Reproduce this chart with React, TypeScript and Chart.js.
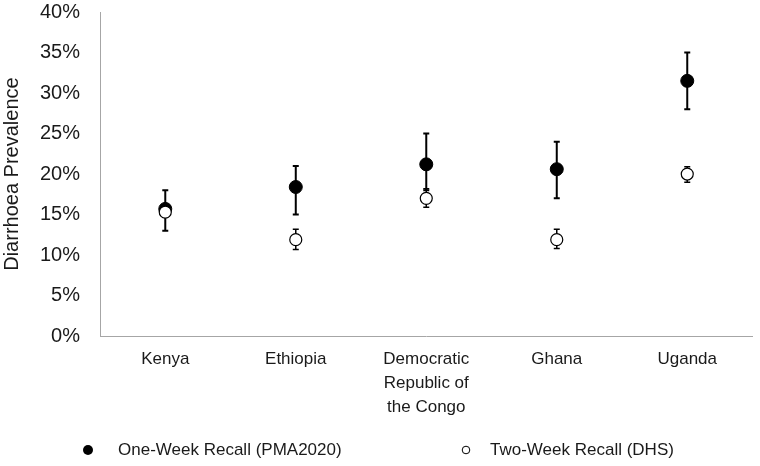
import React, { useEffect, useRef } from "react";
import { Chart, registerables } from "chart.js";

Chart.register(...registerables);

const categories: (string | string[])[] = [
  "Kenya",
  "Ethiopia",
  ["Democratic", "Republic of", "the Congo"],
  "Ghana",
  "Uganda",
];

const oneWeek = [15.7, 18.4, 21.2, 20.6, 31.5];
const oneWeekLow = [13.0, 15.0, 18.0, 17.0, 28.0];
const oneWeekHigh = [18.0, 21.0, 25.0, 24.0, 35.0];

const twoWeek = [15.3, 11.9, 17.0, 11.9, 20.0];
const twoWeekLow = [14.7, 10.7, 15.9, 10.8, 19.0];
const twoWeekHigh = [16.0, 13.2, 18.2, 13.2, 20.9];

const seriesNames = ["One-Week Recall (PMA2020)", "Two-Week Recall (DHS)"];

const FONT = "'Liberation Sans', Arial, sans-serif";
const TEXT = "#1a1a1a";
const AXIS = "#a6a6a6";

const errorBars = {
  id: "errorBars",
  beforeDatasetsDraw(chart: any) {
    const ctx = chart.ctx;
    const xs = chart.scales.x;
    const ys = chart.scales.y;
    const sets = [
      { lo: oneWeekLow, hi: oneWeekHigh, lw: 2 },
      { lo: twoWeekLow, hi: twoWeekHigh, lw: 1.5 },
    ];
    ctx.save();
    ctx.strokeStyle = "#000";
    sets.forEach((s) => {
      ctx.lineWidth = s.lw;
      s.lo.forEach((lo, i) => {
        const x = xs.getPixelForValue(i);
        const yl = ys.getPixelForValue(lo);
        const yh = ys.getPixelForValue(s.hi[i]);
        ctx.beginPath();
        ctx.moveTo(x, yl);
        ctx.lineTo(x, yh);
        ctx.moveTo(x - 3, yl);
        ctx.lineTo(x + 3, yl);
        ctx.moveTo(x - 3, yh);
        ctx.lineTo(x + 3, yh);
        ctx.stroke();
      });
    });
    ctx.restore();
  },
};

const bottomLegend = {
  id: "bottomLegend",
  afterDraw(chart: any) {
    const ctx = chart.ctx;
    const cx = chart.width / 2;
    const y = chart.height - 16;
    ctx.save();
    ctx.beginPath();
    ctx.arc(cx - 292, y, 5, 0, Math.PI * 2);
    ctx.fillStyle = "#000";
    ctx.fill();
    ctx.beginPath();
    ctx.arc(cx + 86, y, 3.8, 0, Math.PI * 2);
    ctx.fillStyle = "#fff";
    ctx.fill();
    ctx.lineWidth = 1;
    ctx.strokeStyle = "#000";
    ctx.stroke();
    ctx.fillStyle = TEXT;
    ctx.font = `17px ${FONT}`;
    ctx.textBaseline = "middle";
    ctx.textAlign = "left";
    ctx.fillText(seriesNames[0], cx - 262, y);
    ctx.fillText(seriesNames[1], cx + 110, y);
    ctx.restore();
  },
};

export default function App() {
  const ref = useRef<HTMLCanvasElement>(null);
  useEffect(() => {
    document.body.style.margin = "0";
    const chart = new Chart(ref.current!, {
      type: "line",
      data: {
        labels: categories as any,
        datasets: [
          {
            label: seriesNames[0],
            data: oneWeek,
            showLine: false,
            pointRadius: 6.5,
            pointHoverRadius: 6.5,
            pointBackgroundColor: "#000",
            pointBorderColor: "#000",
            pointBorderWidth: 1,
            order: 2,
          },
          {
            label: seriesNames[1],
            data: twoWeek,
            showLine: false,
            pointRadius: 6,
            pointHoverRadius: 6,
            pointBackgroundColor: "#fff",
            pointBorderColor: "#000",
            pointBorderWidth: 1.2,
            order: 1,
          },
        ],
      },
      options: {
        animation: false,
        responsive: true,
        maintainAspectRatio: false,
        layout: { padding: { top: 12, right: 2, left: 0, bottom: 36 } },
        plugins: {
          tooltip: { enabled: false },
          legend: { display: false },
        },
        scales: {
          x: {
            offset: true,
            grid: { display: false, drawTicks: false },
            border: { display: true, color: AXIS, width: 1 },
            afterFit: (s: any) => {
              s.paddingLeft = 0;
              s.paddingRight = 0;
            },
            ticks: {
              color: TEXT,
              font: { family: FONT, size: 17, lineHeight: 1.41 },
              maxRotation: 0,
              autoSkip: false,
              padding: 11,
            },
          },
          y: {
            min: 0,
            max: 40,
            grid: { display: false, drawTicks: false },
            border: { display: true, color: AXIS, width: 1 },
            afterFit: (s: any) => {
              s.paddingTop = 0;
              s.paddingBottom = 0;
              s.width = s.width - 20;
            },
            ticks: {
              stepSize: 5,
              color: TEXT,
              font: { family: FONT, size: 20 },
              padding: 20,
              callback: (v: any) => `${v}%`,
            },
            title: {
              display: true,
              text: "Diarrhoea Prevalence",
              color: TEXT,
              font: { family: FONT, size: 20 },
              padding: { top: 0, bottom: 16 },
            },
          },
        },
      },
      plugins: [errorBars, bottomLegend],
    });
    return () => chart.destroy();
  }, []);
  return (
    <div style={{ width: 760, height: 466, position: "relative" }}>
      <canvas ref={ref} />
    </div>
  );
}
